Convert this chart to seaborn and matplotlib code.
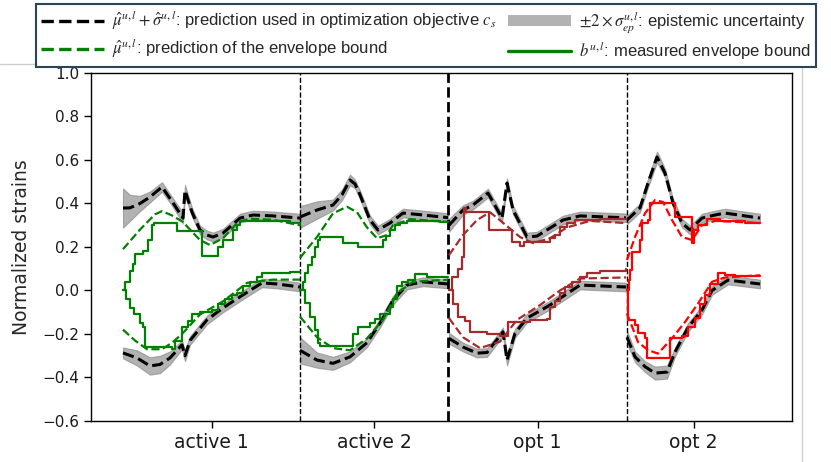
import matplotlib
matplotlib.use("Agg")
import matplotlib.pyplot as plt
from matplotlib.lines import Line2D
from matplotlib.patches import Patch
import numpy as np
import pandas as pd
import seaborn as sns

# ---------------- data (x = sample position, y = normalized strain) ----------------
seg_labels = ["active 1", "active 2", "opt 1", "opt 2"]
seg_bounds = [123, 300, 448, 627, 760]
seg_colors = ["green", "green", "brown", "red"]

# upper black (mu+sigma) per segment: x, y, band half-width
ub_x = [[123, 130, 140, 150, 162, 172, 183, 185, 192, 200, 207, 213, 223, 232, 240, 253, 273, 300],
        [300, 317, 333, 342, 350, 355, 360, 370, 378, 390, 403, 417, 448],
        [449, 463, 473, 488, 502, 507, 513, 527, 537, 550, 563, 580, 626],
        [627, 640, 648, 657, 665, 673, 682, 690, 702, 715, 725, 760]]
ub_y = [[0.379, 0.38, 0.40, 0.43, 0.476, 0.41, 0.333, 0.46, 0.36, 0.278, 0.255, 0.246, 0.264, 0.30, 0.333, 0.347, 0.343, 0.333],
        [0.338, 0.37, 0.393, 0.44, 0.508, 0.49, 0.44, 0.324, 0.278, 0.31, 0.356, 0.35, 0.335],
        [0.30, 0.37, 0.393, 0.448, 0.333, 0.494, 0.37, 0.246, 0.25, 0.287, 0.324, 0.343, 0.334],
        [0.324, 0.38, 0.494, 0.614, 0.54, 0.402, 0.31, 0.278, 0.333, 0.347, 0.356, 0.333]]
ub_w = [[0.09, 0.06, 0.035, 0.025, 0.022, 0.02, 0.025, 0.025, 0.02, 0.02, 0.02, 0.02, 0.02, 0.02, 0.02, 0.02, 0.02, 0.02],
        [0.05, 0.04, 0.025, 0.025, 0.025, 0.02, 0.02, 0.02, 0.02, 0.02, 0.02, 0.02, 0.02],
        [0.03, 0.022, 0.02, 0.02, 0.02, 0.022, 0.02, 0.02, 0.02, 0.02, 0.02, 0.02, 0.02],
        [0.02, 0.02, 0.02, 0.025, 0.02, 0.02, 0.02, 0.02, 0.02, 0.02, 0.02, 0.02]]

# lower black (mu-sigma)
lb_x = [[123, 137, 150, 160, 170, 182, 185, 190, 207, 223, 243, 262, 277, 300],
        [300, 317, 333, 350, 367, 380, 393, 407, 423, 448],
        [449, 463, 477, 487, 503, 507, 515, 527, 550, 580, 626],
        [627, 635, 645, 655, 667, 675, 688, 702, 712, 728, 760]]
lb_y = [[-0.287, -0.31, -0.347, -0.34, -0.31, -0.25, -0.30, -0.23, -0.135, -0.08, -0.02, 0.035, 0.03, 0.016],
        [-0.275, -0.32, -0.335, -0.305, -0.24, -0.15, -0.045, 0.025, 0.04, 0.03],
        [-0.22, -0.26, -0.288, -0.285, -0.19, -0.32, -0.196, -0.127, -0.067, 0.025, 0.016],
        [-0.215, -0.305, -0.35, -0.38, -0.375, -0.283, -0.17, -0.09, 0.0, 0.048, 0.03]]
lb_w = [[0.025, 0.035, 0.04, 0.04, 0.03, 0.02, 0.025, 0.02, 0.02, 0.02, 0.02, 0.02, 0.02, 0.02],
        [0.06, 0.035, 0.03, 0.025, 0.02, 0.02, 0.02, 0.02, 0.02, 0.02],
        [0.025, 0.02, 0.02, 0.02, 0.02, 0.025, 0.02, 0.02, 0.02, 0.02, 0.02],
        [0.03, 0.025, 0.025, 0.03, 0.03, 0.02, 0.02, 0.02, 0.02, 0.02, 0.02]]

# predicted envelope bound (dashed, coloured)
pu_x = [[123, 140, 155, 162, 172, 183, 192, 200, 210, 223, 238, 250, 273, 300],
        [300, 317, 333, 347, 357, 367, 377, 387, 393, 410, 448],
        [449, 463, 477, 490, 502, 520, 533, 550, 567, 590, 626],
        [627, 635, 645, 655, 663, 672, 682, 692, 702, 715, 760]]
pu_y = [[0.19, 0.28, 0.35, 0.365, 0.345, 0.315, 0.27, 0.232, 0.209, 0.24, 0.315, 0.33, 0.325, 0.30],
        [0.15, 0.246, 0.355, 0.385, 0.36, 0.29, 0.24, 0.255, 0.30, 0.328, 0.315],
        [0.163, 0.255, 0.324, 0.36, 0.315, 0.246, 0.218, 0.24, 0.29, 0.32, 0.31],
        [0.14, 0.246, 0.355, 0.416, 0.407, 0.324, 0.246, 0.232, 0.30, 0.32, 0.31]]
pl_x = [[123, 135, 147, 162, 172, 182, 200, 223, 247, 273, 300],
        [300, 317, 333, 350, 367, 383, 397, 413, 448],
        [449, 463, 480, 500, 517, 540, 560, 580, 626],
        [627, 638, 648, 658, 672, 685, 698, 712, 725, 760]]
pl_y = [[-0.18, -0.23, -0.27, -0.27, -0.24, -0.2, -0.11, -0.05, 0.035, 0.05, 0.05],
        [-0.12, -0.215, -0.265, -0.275, -0.22, -0.135, -0.013, 0.04, 0.05],
        [-0.127, -0.215, -0.265, -0.235, -0.135, -0.067, 0.0, 0.055, 0.06],
        [-0.105, -0.237, -0.274, -0.29, -0.22, -0.145, -0.06, 0.04, 0.06, 0.07]]

# measured envelope bound (solid steps, coloured)
mu_x = [[123, 125, 130, 133, 135, 143, 148, 152, 154, 177, 202, 218, 223, 233, 237, 240, 290, 300],
        [300, 303, 305, 308, 312, 315, 318, 320, 343, 358, 383, 386, 390, 395, 400, 407, 440, 448],
        [449, 452, 458, 462, 464, 466, 489, 512, 520, 524, 550, 555, 560, 567, 575, 600, 626],
        [627, 629, 630, 632, 640, 642, 648, 650, 675, 692, 694, 698, 707, 720, 745, 760]]
mu_y = [[0.0, 0.04, 0.09, 0.12, 0.17, 0.18, 0.23, 0.30, 0.31, 0.273, 0.16, 0.20, 0.23, 0.278, 0.30, 0.32, 0.31, 0.30],
        [0.0, 0.04, 0.08, 0.117, 0.155, 0.20, 0.23, 0.246, 0.218, 0.20, 0.23, 0.25, 0.278, 0.30, 0.31, 0.32, 0.315, 0.315],
        [0.0, 0.06, 0.10, 0.155, 0.38, 0.36, 0.278, 0.224, 0.205, 0.224, 0.24, 0.255, 0.29, 0.31, 0.324, 0.33, 0.33],
        [0.0, 0.05, 0.094, 0.176, 0.232, 0.31, 0.324, 0.402, 0.337, 0.218, 0.278, 0.30, 0.328, 0.32, 0.31, 0.31]]
ml_x = [[123, 126, 130, 134, 140, 143, 145, 172, 175, 182, 188, 192, 200, 212, 218, 225, 232, 237, 243, 250, 257, 262, 290, 300],
        [300, 305, 310, 315, 318, 320, 353, 358, 370, 375, 380, 390, 393, 397, 402, 408, 415, 427, 448],
        [449, 453, 458, 465, 470, 487, 500, 508, 530, 547, 550, 555, 560, 565, 572, 580, 587, 600, 626],
        [627, 628, 635, 638, 645, 647, 670, 682, 688, 695, 700, 705, 710, 718, 725, 735, 760]]
ml_y = [[0.0, -0.04, -0.08, -0.11, -0.15, -0.17, -0.26, -0.27, -0.23, -0.17, -0.14, -0.11, -0.10, -0.09, -0.06, -0.04, -0.02, -0.01, 0.02, 0.04, 0.06, 0.08, 0.085, 0.085],
        [0.0, -0.058, -0.12, -0.18, -0.24, -0.255, -0.20, -0.17, -0.15, -0.13, -0.11, -0.075, -0.04, 0.02, 0.04, 0.05, 0.075, 0.06, 0.06],
        [0.0, -0.06, -0.12, -0.14, -0.19, -0.20, -0.21, -0.145, -0.136, -0.13, -0.076, -0.05, -0.01, 0.016, 0.04, 0.06, 0.08, 0.09, 0.10],
        [0.0, -0.135, -0.16, -0.195, -0.22, -0.31, -0.218, -0.21, -0.17, -0.127, -0.06, -0.02, 0.03, 0.08, 0.07, 0.066, 0.066]]

# ---------------- figure ----------------
sns.set_style("ticks")
plt.rcParams["font.family"] = ["DejaVu Sans"]
plt.rcParams["mathtext.fontset"] = "stix"

W, H = 831, 462
fig = plt.figure(figsize=(W / 100, H / 100), dpi=100)
ax = fig.add_axes([91 / W, 1 - 421 / H, (792 - 91) / W, (421 - 73) / H])

for i in range(4):
    c = seg_colors[i]
    # uncertainty bands
    for xs, ys, ws in ((ub_x[i], ub_y[i], ub_w[i]), (lb_x[i], lb_y[i], lb_w[i])):
        y = np.array(ys); w = np.array(ws)
        ax.fill_between(xs, y - w, y + w, color="gray", alpha=0.6, linewidth=0.8, zorder=1)
    # black dashed mu +/- sigma
    for xs, ys in ((ub_x[i], ub_y[i]), (lb_x[i], lb_y[i])):
        sns.lineplot(x=xs, y=ys, ax=ax, color="black", linestyle="--", linewidth=2.2,
                     estimator=None, sort=False, zorder=3)
    # coloured dashed prediction
    for xs, ys in ((pu_x[i], pu_y[i]), (pl_x[i], pl_y[i])):
        sns.lineplot(x=xs, y=ys, ax=ax, color=c, linestyle="--", linewidth=1.6,
                     estimator=None, sort=False, zorder=4)
    # measured bound steps
    for xs, ys in ((mu_x[i], mu_y[i]), (ml_x[i], ml_y[i])):
        sns.lineplot(x=xs, y=ys, ax=ax, color=c, linewidth=1.6, drawstyle="steps-post",
                     estimator=None, sort=False, zorder=5)

# segment separators
for j, b in enumerate(seg_bounds[1:-1]):
    ax.axvline(b, color="black", linestyle="--", linewidth=2.0 if j == 1 else 1.0, zorder=2)

ax.set_xlim(91, 792)
ax.set_ylim(-0.6, 1.0)
ax.set_yticks(np.arange(-0.6, 1.01, 0.2))
ax.set_yticklabels([f"{v:.1f}".replace("-", "\u2212") for v in np.arange(-0.6, 1.01, 0.2)], fontsize=11)
mids = [(seg_bounds[k] + seg_bounds[k + 1]) / 2 for k in range(4)]
ax.set_xticks(mids)
ax.set_xticklabels(seg_labels, fontsize=13.5)
ax.set_ylabel("Normalized strains", fontsize=13.5, labelpad=8)
for s in ax.spines.values():
    s.set_color("black"); s.set_linewidth(1.0)
ax.tick_params(axis="both", colors="black", length=5, width=1, labelcolor="#1a1a1a")

# slide-like frame lines
fig.add_artist(Line2D([0, 802 / W], [1 - 64 / H] * 2, color="#cfcfcf", lw=1, transform=fig.transFigure))
fig.add_artist(Line2D([802 / W] * 2, [0, 1 - 64 / H], color="#cfcfcf", lw=1, transform=fig.transFigure))

handles = [Line2D([], [], color="black", linestyle="--", linewidth=2.4),
           Line2D([], [], color="green", linestyle="--", linewidth=2.4),
           Patch(facecolor="gray", alpha=0.6, edgecolor="none"),
           Line2D([], [], color="green", linewidth=2.4)]
labels = [r"$\hat{\mu}^{u,l}+\hat{\sigma}^{u,l}$: prediction used in optimization objective $c_s$",
          r"$\hat{\mu}^{u,l}$: prediction of the envelope bound",
          r"$\pm 2\times\sigma_{ep}^{u,l}$: epistemic uncertainty",
          r"$b^{u,l}$: measured envelope bound"]
leg = fig.legend(handles, labels, ncol=2, loc="upper left", bbox_to_anchor=(36 / W, 1 - 4 / H),
                 frameon=True, fancybox=False, framealpha=1, edgecolor="#2b4556",
                 borderaxespad=0, handlelength=3.8, columnspacing=0.7, handletextpad=0.45,
                 borderpad=0.3, labelspacing=0.25, handleheight=0.6,
                 prop={"family": ["Liberation Sans", "DejaVu Sans"], "size": 12})
leg.get_frame().set_linewidth(1.5)

fig.savefig("out.png", dpi=100)
